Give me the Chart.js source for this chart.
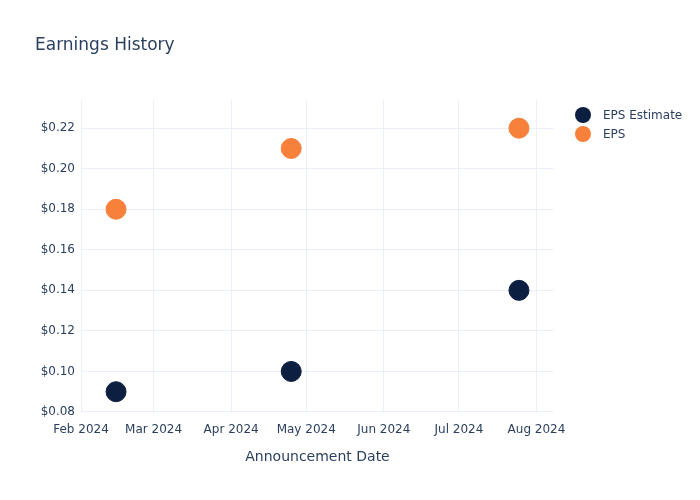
<!DOCTYPE html>
<html>
<head>
<meta charset="utf-8">
<script src="https://cdn.jsdelivr.net/npm/chart.js@4.4.1/dist/chart.umd.min.js"></script>
<style>
body{margin:0;background:#fff;font-family:"DejaVu Sans",Verdana,sans-serif;}
#wrap{position:relative;width:700px;height:500px;}
#title{position:absolute;left:35px;top:34px;font-size:17px;color:#2a3f5f;}
#legend{position:absolute;left:575px;top:105px;font-size:12px;color:#2a3f5f;}
.item{height:19px;display:flex;align-items:center;}
.dot{width:16px;height:16px;border-radius:50%;margin-right:12px;}
</style>
</head>
<body>
<div id="wrap">
<canvas id="c" width="700" height="500"></canvas>
<div id="title">Earnings History</div>
<div id="legend"></div>
</div>
<script>
const dates=["2024-02-15","2024-04-25","2024-07-25"];
const epsEstimate=[0.09,0.10,0.14];
const eps=[0.18,0.21,0.22];
const seriesNames=["EPS Estimate","EPS"];
const colors=["#0c1f40","#f7803a"];
const monthTicks=["2024-02-01","2024-03-01","2024-04-01","2024-05-01","2024-06-01","2024-07-01","2024-08-01"];
const yTicks=[0.08,0.10,0.12,0.14,0.16,0.18,0.20,0.22];
const monthNames=["Jan","Feb","Mar","Apr","May","Jun","Jul","Aug","Sep","Oct","Nov","Dec"];

function ts(s){return Date.parse(s+"T00:00:00Z");}

const grid="#ebf0f8";
const txt="#2a3f5f";
const font={family:"DejaVu Sans, Verdana, sans-serif",size:12};

new Chart(document.getElementById("c"),{
type:"scatter",
data:{
datasets:[
{label:seriesNames[0],data:dates.map((d,i)=>({x:ts(d),y:epsEstimate[i]})),backgroundColor:colors[0],borderColor:colors[0],pointRadius:10,pointHoverRadius:10},
{label:seriesNames[1],data:dates.map((d,i)=>({x:ts(d),y:eps[i]})),backgroundColor:colors[1],borderColor:colors[1],pointRadius:10,pointHoverRadius:10}
]
},
options:{
responsive:false,
animation:false,
layout:{padding:{left:0,right:146,top:100,bottom:26}},
plugins:{legend:{display:false},tooltip:{enabled:false}},
scales:{
x:{
type:"linear",
min:ts("2024-02-01"),
max:ts("2024-08-08"),
afterBuildTicks:s=>{s.ticks=monthTicks.map(m=>({value:ts(m)}));},
afterFit:s=>{s.height=61;},
grid:{color:grid,drawTicks:false},
border:{display:false},
ticks:{color:txt,font:font,padding:10,maxRotation:0,autoSkip:false,
callback:v=>{const d=new Date(v);return monthNames[d.getUTCMonth()]+" "+d.getUTCFullYear();}},
title:{display:true,text:"Announcement Date",color:txt,font:{family:font.family,size:14},padding:{top:4,bottom:8}}
},
y:{
min:0.0795,
max:0.2339,
afterBuildTicks:s=>{s.ticks=yTicks.map(v=>({value:v}));},
afterFit:s=>{s.width=81;},
grid:{color:grid,drawTicks:false},
border:{display:false},
ticks:{color:txt,font:font,padding:6,callback:v=>"$"+v.toFixed(2)}
}
}
}
});

const lg=document.getElementById("legend");
seriesNames.forEach((n,i)=>{
const d=document.createElement("div");d.className="item";
d.innerHTML='<span class="dot" style="background:'+colors[i]+'"></span><span>'+n+'</span>';
lg.appendChild(d);
});
</script>
</body>
</html>
